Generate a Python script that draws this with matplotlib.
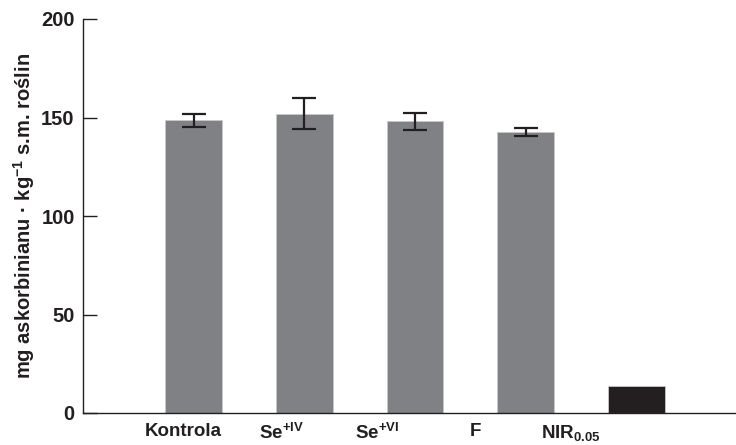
import matplotlib
matplotlib.use("Agg")
import matplotlib.pyplot as plt

categories = ["Kontrola", "Se$^{+IV}$", "Se$^{+VI}$", "F", "NIR$_{0.05}$"]
values = [148.5, 152.0, 148.0, 142.6, 13.7]
errors = [3.4, 7.8, 4.5, 2.0, None]
yticks = [0, 50, 100, 150, 200]
ylabel = "mg askorbinianu · kg$^{-1}$ s.m. roślin"

plt.rcParams['font.family'] = ['Liberation Sans', 'DejaVu Sans']
plt.rcParams['font.weight'] = 'bold'
plt.rcParams['mathtext.fontset'] = 'custom'
plt.rcParams['mathtext.rm'] = 'Liberation Sans:bold'
plt.rcParams['mathtext.bf'] = 'Liberation Sans:bold'
plt.rcParams['mathtext.it'] = 'Liberation Sans:bold'
plt.rcParams['mathtext.default'] = 'rm'

fig = plt.figure(figsize=(7.36, 4.45), dpi=100)
ax = fig.add_axes([83/736, 1-413/445, 1-83/736, (413-19)/445])

x = list(range(1, len(values) + 1))
colors = ['#808184'] * 4 + ['#231f20']
ax.bar(x, values, width=0.51, color=colors, edgecolor='#c8c8c8', linewidth=0.6, zorder=2)
ex = [xi for xi, e in zip(x, errors) if e is not None]
ey = [v for v, e in zip(values, errors) if e is not None]
ee = [e for e in errors if e is not None]
ax.errorbar(ex, ey, yerr=ee, fmt='none', ecolor='#231f20', elinewidth=1.6,
            capsize=8.5, capthick=1.6, zorder=3)

ax.set_xlim(0, 5.9)
ax.set_ylim(0, 200)
ax.set_yticks(yticks)
ax.set_yticklabels([str(t) for t in yticks], fontsize=14.5, fontweight='bold', color='#231f20')
label_pos = [0.91, 1.79, 2.66, 3.55, 4.41]
ax.set_xticks(label_pos)
ax.set_xticklabels(categories, fontsize=13.5, fontweight='bold', color='#231f20')
ax.tick_params(axis='x', length=0, pad=7)
ax.tick_params(axis='y', direction='in', length=10, width=1, color='#231f20', pad=6)
for s in ['top', 'right']:
    ax.spines[s].set_visible(False)
for s in ['left', 'bottom']:
    ax.spines[s].set_color('#231f20')
    ax.spines[s].set_linewidth(1.0)
ax.set_ylabel(ylabel, fontsize=14.5, fontweight='bold', color='#231f20', labelpad=3)

fig.savefig("out.png", dpi=100)
